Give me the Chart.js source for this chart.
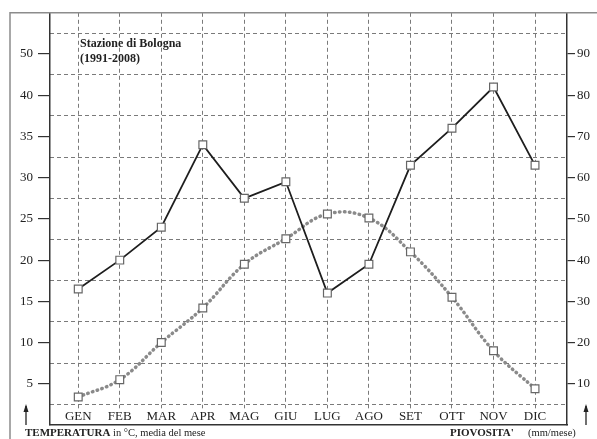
<!DOCTYPE html>
<html>
<head>
<meta charset="utf-8">
<script src="https://cdn.jsdelivr.net/npm/chart.js@4.4.1/dist/chart.umd.min.js"></script>
<style>
  html, body { margin: 0; padding: 0; background: #fff; }
  canvas { display: block; }
</style>
</head>
<body>
<canvas id="chart" width="597" height="439"></canvas>
<script>
// Stazione di Bologna, monthly means 1991-2008
const months = ['GEN', 'FEB', 'MAR', 'APR', 'MAG', 'GIU', 'LUG', 'AGO', 'SET', 'OTT', 'NOV', 'DIC'];
const temperature = [3.4, 5.5, 10.0, 14.2, 19.5, 22.6, 25.6, 25.1, 21.0, 15.5, 9.0, 4.4]; // °C
const rainfall = [33, 40, 48, 68, 55, 59, 32, 39, 63, 72, 82, 63];                     // mm/mese

// axis ticks (the printed left axis reads 50 where 45 would be)
const tempTicks = [5, 10, 15, 20, 25, 30, 35, 40, 45];
const tempTickLabels = ['5', '10', '15', '20', '25', '30', '35', '40', '50'];
const rainTicks = [10, 20, 30, 40, 50, 60, 70, 80, 90];
const gridTicks = [5, 15, 25, 35, 45, 55, 65, 75, 85, 95];

const SERIF = "'Liberation Serif', 'Times New Roman', serif";
const INK = '#222';
const GRID = '#7a7a7a';

const setTicks = values => scale => { scale.ticks = values.map(v => ({ value: v })); };

// frame, inner title, captions and arrows
const decorations = {
  id: 'decorations',
  afterDraw(chart) {
    const { ctx, chartArea: area, width, height } = chart;
    ctx.save();

    ctx.strokeStyle = '#8c8c8c';
    ctx.lineWidth = 1.5;
    ctx.beginPath();
    ctx.moveTo(width, area.top);
    ctx.lineTo(10, area.top);
    ctx.lineTo(10, height);
    ctx.stroke();

    ctx.fillStyle = INK;
    ctx.textBaseline = 'middle';
    ctx.textAlign = 'left';
    ctx.font = 'bold 12px ' + SERIF;
    ctx.fillText('Stazione di Bologna', area.left + 30, area.top + 31);
    ctx.fillText('(1991-2008)', area.left + 30, area.top + 46);

    const capY = area.bottom + 8;
    ctx.font = 'bold 11px ' + SERIF;
    ctx.fillText('TEMPERATURA', 25, capY);
    let w = ctx.measureText('TEMPERATURA').width;
    ctx.font = '10.5px ' + SERIF;
    ctx.fillText(' in °C, media del mese', 25 + w, capY);

    ctx.font = 'bold 11px ' + SERIF;
    ctx.fillText("PIOVOSITA'", 450, capY);
    ctx.font = '10.5px ' + SERIF;
    ctx.fillText('(mm/mese)', 528, capY);

    const arrow = x => {
      ctx.strokeStyle = INK;
      ctx.lineWidth = 1.3;
      ctx.beginPath();
      ctx.moveTo(x, area.bottom);
      ctx.lineTo(x, area.bottom - 19);
      ctx.stroke();
      ctx.beginPath();
      ctx.moveTo(x - 2.5, area.bottom - 13);
      ctx.lineTo(x, area.bottom - 21);
      ctx.lineTo(x + 2.5, area.bottom - 13);
      ctx.closePath();
      ctx.fill();
    };
    arrow(26);
    arrow(586);
    ctx.restore();
  }
};

new Chart(document.getElementById('chart'), {
  type: 'line',
  data: {
    datasets: [
      {
        label: 'Piovosità',
        data: rainfall.map((v, i) => ({ x: i, y: v })),
        yAxisID: 'yR',
        borderColor: '#1e1e1e',
        borderWidth: 1.8,
        tension: 0,
        pointStyle: 'rect',
        pointRadius: 5.5,
        pointBackgroundColor: '#fff',
        pointBorderColor: '#666',
        pointBorderWidth: 1.2
      },
      {
        label: 'Temperatura',
        data: temperature.map((v, i) => ({ x: i, y: v })),
        yAxisID: 'yT',
        borderColor: '#8a8a8a',
        borderWidth: 3.5,
        borderDash: [0.5, 4.5],
        borderCapStyle: 'round',
        tension: 0.4,
        pointStyle: 'rect',
        pointRadius: 5.5,
        pointBackgroundColor: '#fff',
        pointBorderColor: '#666',
        pointBorderWidth: 1.2
      }
    ]
  },
  options: {
    responsive: false,
    animation: false,
    events: [],
    layout: { padding: { top: 12, bottom: 14, left: 0, right: 0 } },
    plugins: {
      legend: { display: false },
      tooltip: { enabled: false }
    },
    scales: {
      x: {
        type: 'linear',
        min: -0.68,
        max: 11.77,
        afterBuildTicks: setTicks(months.map((m, i) => i)),
        afterFit: scale => { scale.height = 0; },
        ticks: {
          callback: value => months[value],
          autoSkip: false,
          maxRotation: 0,
          mirror: true,
          padding: 1,
          color: INK,
          font: { family: SERIF, size: 13 },
          showLabelBackdrop: true,
          backdropColor: '#fff',
          backdropPadding: { top: 0, bottom: 0, left: 2, right: 2 }
        },
        grid: { color: GRID, lineWidth: 1, drawTicks: false },
        border: { display: true, color: '#333', width: 1.5, dash: [4, 3] }
      },
      yT: {
        type: 'linear',
        position: 'left',
        min: 0,
        max: 50,
        afterBuildTicks: setTicks(tempTicks),
        afterFit: scale => { scale.width = 50; },
        ticks: {
          callback: (value, index) => tempTickLabels[index],
          padding: 5,
          color: INK,
          font: { family: SERIF, size: 13 }
        },
        grid: { drawOnChartArea: false, drawTicks: true, tickLength: 12, color: '#333', lineWidth: 1.2 },
        border: { display: true, color: '#333', width: 1.5 }
      },
      yR: {
        type: 'linear',
        position: 'right',
        min: 0,
        max: 100,
        afterBuildTicks: setTicks(rainTicks),
        afterFit: scale => { scale.width = 30; },
        ticks: {
          padding: 2,
          color: INK,
          font: { family: SERIF, size: 13 }
        },
        grid: { drawOnChartArea: false, drawTicks: true, tickLength: 8, color: '#333', lineWidth: 1.2 },
        border: { display: true, color: '#333', width: 1.5 }
      },
      yGrid: {
        type: 'linear',
        position: 'right',
        min: 0,
        max: 100,
        afterBuildTicks: setTicks(gridTicks),
        afterFit: scale => { scale.width = 0; },
        ticks: { display: false },
        grid: { color: GRID, lineWidth: 1, drawTicks: false },
        border: { display: false, dash: [4, 3] }
      }
    }
  },
  plugins: [decorations]
});
</script>
</body>
</html>
